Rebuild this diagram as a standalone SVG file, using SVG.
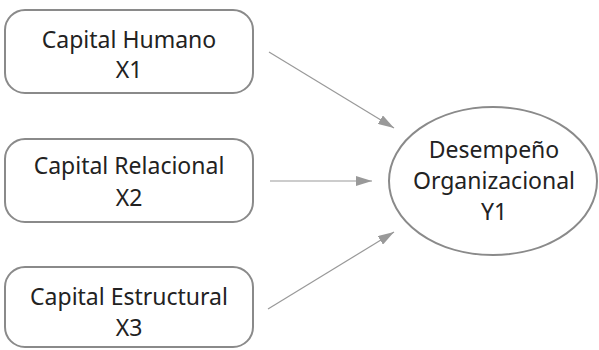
<svg xmlns="http://www.w3.org/2000/svg" width="599" height="350" viewBox="0 0 599 350">
<style>
.box{fill:#fff;stroke:#8a8a8a;stroke-width:2}
.t{font-family:"Noto Sans","Open Sans",sans-serif;font-size:23px;fill:#222;text-anchor:middle}
.c{stroke:#999;stroke-width:1.2;fill:none}
</style>
<defs>
<marker id="ah" viewBox="0 0 16 10" refX="16" refY="5" markerWidth="16" markerHeight="10" markerUnits="userSpaceOnUse" orient="auto"><path d="M0,0 L16,5 L0,10 z" fill="#999"/></marker>
</defs>
<rect width="599" height="350" fill="#fff"/>
<g id="connectors">
<line class="c" x1="269" y1="52" x2="394" y2="128" marker-end="url(#ah)"/>
<line class="c" x1="270" y1="181" x2="372" y2="181" marker-end="url(#ah)"/>
<line class="c" x1="268" y1="309" x2="394" y2="232" marker-end="url(#ah)"/>
</g>
<g id="n1">
<rect class="box" x="5" y="10" width="248" height="83" rx="20"/>
<text class="t" x="129" y="48">Capital Humano</text>
<text class="t" x="129" y="78">X1</text>
</g>
<g id="n2">
<rect class="box" x="5" y="139" width="248" height="83" rx="20"/>
<text class="t" x="129" y="174">Capital Relacional</text>
<text class="t" x="129" y="206">X2</text>
</g>
<g id="n3">
<rect class="box" x="5" y="267" width="248" height="80" rx="20"/>
<text class="t" x="129" y="305">Capital Estructural</text>
<text class="t" x="129" y="336">X3</text>
</g>
<g id="y1">
<ellipse class="box" cx="493" cy="181" rx="104" ry="74"/>
<text class="t" x="494" y="158">Desempeño</text>
<text class="t" x="494" y="189">Organizacional</text>
<text class="t" x="494" y="220">Y1</text>
</g>
</svg>
